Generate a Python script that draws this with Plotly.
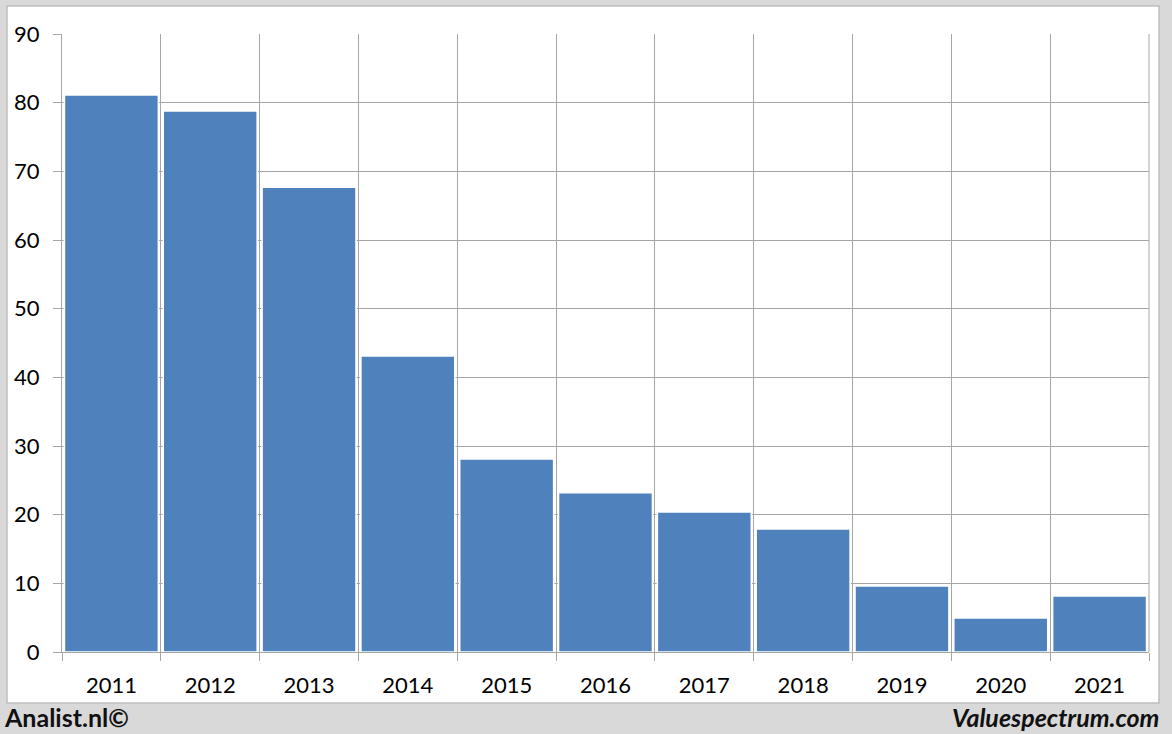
import plotly.graph_objects as go

years = ["2011", "2012", "2013", "2014", "2015", "2016", "2017", "2018", "2019", "2020", "2021"]
values = [81.1, 78.8, 67.7, 43.1, 28.1, 23.2, 20.4, 17.9, 9.6, 4.95, 8.15]
y_ticks = [0, 10, 20, 30, 40, 50, 60, 70, 80, 90]

W, H = 1172, 734
L, R, T, B = 62, 23, 34, 82
pw, ph = W - L - R, H - T - B

def px_x(x):
    return (x - L) / pw

def px_y(y):
    return (H - B - y) / ph

GRID = "#a6a6a6"
FONT = "Lato"

fig = go.Figure()
fig.add_trace(go.Bar(
    x=years, y=values,
    marker=dict(color="#4f81bd", line=dict(color="white", width=1.5)),
    width=0.95,
))

fig.update_layout(
    width=W, height=H,
    margin=dict(l=L, r=R, t=T, b=B, pad=0),
    paper_bgcolor="#d9d9d9",
    plot_bgcolor="white",
    showlegend=False,
    bargap=0.05,
    font=dict(family=FONT, size=22, color="#000000"),
    xaxis=dict(
        type="category",
        tickson="boundaries",
        showgrid=True, gridcolor=GRID, gridwidth=1,
        ticks="outside", ticklen=8, tickcolor=GRID,
        showline=True, linecolor=GRID, linewidth=1,
        ticklabelstandoff=14,
        tickfont=dict(family=FONT, size=22, color="#000"),
    ),
    yaxis=dict(
        range=[0, 90],
        tickvals=y_ticks,
        showgrid=True, gridcolor=GRID, gridwidth=1,
        ticks="outside", ticklen=8, tickcolor=GRID,
        showline=True, linecolor=GRID, linewidth=1,
        zeroline=False,
        ticklabelstandoff=9,
        tickfont=dict(family=FONT, size=22, color="#000"),
    ),
    shapes=[
        dict(type="rect", xref="paper", yref="paper",
             x0=px_x(7), x1=px_x(1159), y0=px_y(703), y1=px_y(6),
             fillcolor="white", line=dict(color="#bfbfbf", width=1.5),
             layer="below"),
        dict(type="line", xref="paper", yref="paper",
             x0=1.0, x1=1.0, y0=0, y1=1, line=dict(color=GRID, width=1)),
    ],
    annotations=[
        dict(text="<b>Analist.nl©</b>", xref="paper", yref="paper",
             x=px_x(2), y=px_y(717), xanchor="left", yanchor="middle",
             showarrow=False, font=dict(family=FONT, size=25, color="#111")),
        dict(text="<b><i>Valuespectrum.com</i></b>", xref="paper", yref="paper",
             x=px_x(1161), y=px_y(717), xanchor="right", yanchor="middle",
             showarrow=False, font=dict(family=FONT, size=25, color="#111")),
    ],
)

fig.write_html("out.html", config={"displayModeBar": False})

with open("out.html", "r", encoding="utf-8") as f:
    html = f.read()
html = html.replace("<head>", "<head><style>html,body{margin:0;padding:0;overflow:hidden;}</style>", 1)
with open("out.html", "w", encoding="utf-8") as f:
    f.write(html)
